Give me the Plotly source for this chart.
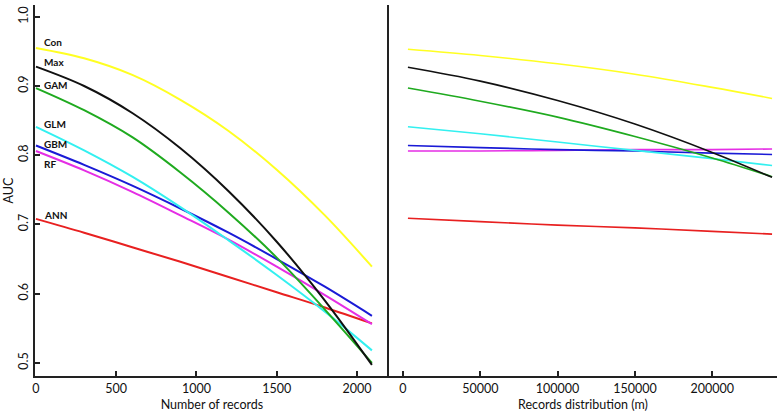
import plotly.graph_objects as go

# ---- Data ----
names = ["Con", "Max", "GAM", "GLM", "GBM", "RF", "ANN"]
colors = ["#ffff22", "#111111", "#1faa1f", "#33f0f0", "#1a1ad6", "#e52ee5", "#e82020"]

# Left panel: AUC vs number of records
records = [0, 300, 600, 900, 1200, 1500, 1800, 2093]
auc_con = [0.955, 0.940, 0.916, 0.880, 0.835, 0.779, 0.713, 0.639]
auc_max = [0.928, 0.900, 0.861, 0.810, 0.748, 0.675, 0.590, 0.497]
auc_gam = [0.897, 0.865, 0.826, 0.775, 0.717, 0.652, 0.577, 0.500]
auc_glm = [0.841, 0.807, 0.769, 0.725, 0.677, 0.627, 0.574, 0.518]
auc_gbm = [0.814, 0.786, 0.756, 0.723, 0.688, 0.650, 0.610, 0.568]
auc_rf = [0.806, 0.778, 0.747, 0.713, 0.678, 0.639, 0.598, 0.556]
auc_ann = [0.708, 0.688, 0.667, 0.646, 0.624, 0.602, 0.580, 0.557]

# Right panel: AUC vs records distribution (m)
dist = [3234, 50000, 100000, 150000, 200000, 238700]
dauc_con = [0.953, 0.944, 0.932, 0.917, 0.898, 0.882]
dauc_max = [0.927, 0.907, 0.879, 0.845, 0.804, 0.768]
dauc_gam = [0.897, 0.878, 0.855, 0.827, 0.796, 0.769]
dauc_glm = [0.841, 0.831, 0.819, 0.807, 0.795, 0.785]
dauc_gbm = [0.814, 0.811, 0.808, 0.806, 0.803, 0.801]
dauc_rf = [0.806, 0.806, 0.807, 0.808, 0.808, 0.809]
dauc_ann = [0.709, 0.704, 0.699, 0.695, 0.690, 0.686]

left_y = [auc_con, auc_max, auc_gam, auc_glm, auc_gbm, auc_rf, auc_ann]
right_y = [dauc_con, dauc_max, dauc_gam, dauc_glm, dauc_gbm, dauc_rf, dauc_ann]

label_y = [0.964, 0.935, 0.902, 0.845, 0.816, 0.788, 0.714]

y_ticks = [0.5, 0.6, 0.7, 0.8, 0.9, 1.0]
y_ticktext = ["0.5", "0.6", "0.7", "0.8", "0.9", "1.0"]
x1_ticks = [0, 500, 1000, 1500, 2000]
x2_ticks = [0, 50000, 100000, 150000, 200000]
x2_ticktext = ["0", "50000", "100000", "150000", "200000"]

fig = go.Figure()
order = [6, 5, 4, 3, 2, 1, 0]
for i in order:
    fig.add_trace(go.Scatter(x=records, y=left_y[i], mode="lines",
                             line=dict(color=colors[i], width=2, shape="spline", smoothing=1.0),
                             xaxis="x", yaxis="y", showlegend=False, name=names[i]))
for i in order:
    fig.add_trace(go.Scatter(x=dist, y=right_y[i], mode="lines",
                             line=dict(color=colors[i], width=1.6, shape="spline", smoothing=1.0),
                             xaxis="x2", yaxis="y2", showlegend=False, name=names[i]))

for n, ly in zip(names, label_y):
    fig.add_annotation(x=40, y=ly, xref="x", yref="y", text="<b>" + n + "</b>",
                       showarrow=False, xanchor="left", yanchor="middle",
                       font=dict(size=10, color="#111111", family="Lato"))

axis_common = dict(showline=True, linecolor="#222222", linewidth=2, showgrid=False,
                   zeroline=False, ticks="inside", ticklen=5, tickcolor="#222222",
                   tickwidth=1.5, automargin=False,
                   tickfont=dict(size=12.5, color="#111111", family="Lato"))

fig.update_layout(
    width=777, height=417,
    margin=dict(l=35, r=0, t=5, b=41),
    paper_bgcolor="white", plot_bgcolor="white",
    font=dict(family="Lato", color="#111111"),
    xaxis=dict(domain=[0, 0.477], range=[-6, 2199], tickvals=x1_ticks,
               title=dict(text="Number of records", font=dict(size=12.5), standoff=5),
               anchor="y", **axis_common),
    xaxis2=dict(domain=[0.477, 1], range=[-9055, 241900], tickvals=x2_ticks,
                ticktext=x2_ticktext,
                title=dict(text="Records distribution (m)", font=dict(size=12.5), standoff=5),
                anchor="y2", **axis_common),
    yaxis=dict(range=[0.481, 1.017], tickvals=y_ticks, ticktext=y_ticktext, tickangle=-90,
               title=dict(text="AUC", font=dict(size=12.5), standoff=0),
               anchor="x", **axis_common),
    yaxis2=dict(range=[0.481, 1.017], matches="y", showticklabels=False, anchor="x2",
                showline=True, linecolor="#222222", linewidth=2, showgrid=False,
                zeroline=False, ticks=""),
)

fig.write_html("out.html", config={"displayModeBar": False},
               post_script="document.body.style.margin='0';")
